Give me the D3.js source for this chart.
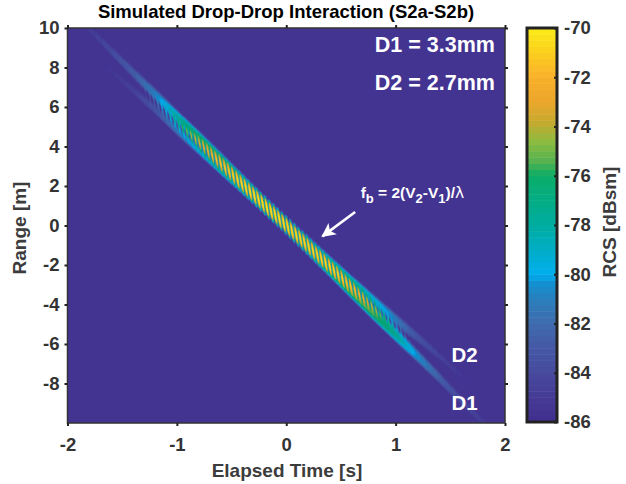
<!DOCTYPE html>
<meta charset="utf-8">
<style>
body { margin: 0; background: #fff; }
text { font-family: "Liberation Sans", Arial, sans-serif; font-weight: bold; }
.tick-label { font-size: 18.5px; fill: #333; }
.axis-label { font-size: 19px; fill: #3c3c3c; }
.note { fill: #fff; }
</style>
<svg width="626" height="484"></svg>
<script src="https://d3js.org/d3.v7.min.js"></script>
<script>

// values
var xTicks = [-2, -1, 0, 1, 2];
var yTicks = [10, 8, 6, 4, 2, 0, -2, -4, -6, -8];
var cTicks = [-70, -72, -74, -76, -78, -80, -82, -84, -86];

// the two drop tracks: range [m] and single drop level [dBsm] along elapsed time [s]
var trackTime = [-1.9, -1.6, -1.4, -1.2, -1.0, -0.8, -0.6, -0.4, -0.2, 0, 0.2, 0.4, 0.6, 0.8, 1.0, 1.2, 1.4, 1.6, 1.9];
var d1Range = [10.5, 8.85, 7.75, 6.65, 5.5, 4.4, 3.3, 2.2, 1.1, 0, -1.1, -2.2, -3.3, -4.4, -5.5, -6.6, -7.7, -8.85, -10.5];
var d2Range = [9.3, 7.85, 6.85, 5.9, 4.9, 3.95, 2.98, 2.0, 1.0, 0.03, -0.95, -1.95, -2.92, -3.85, -4.75, -5.65, -6.6, -7.6, -9.1];
var d1Peak = [-85.2, -83.8, -82.6, -80.8, -78, -75.6, -74.6, -74.8, -75, -75, -75, -74.8, -74.6, -75.4, -77.6, -80.4, -82.4, -83.8, -85.2];
var d2Peak = [-87, -85, -84.4, -83.2, -81, -78.6, -76.4, -75.4, -75, -75, -75, -75.4, -76.4, -78.6, -81, -83.2, -84.3, -85, -87];

// times of the interference fringes along the streak
var fringeTime = [-1.020, -0.982, -0.944, -0.906, -0.867, -0.829, -0.791, -0.752, -0.714, -0.676, -0.637, -0.599,
  -0.560, -0.522, -0.484, -0.445, -0.407, -0.369, -0.330, -0.292, -0.253, -0.215, -0.177, -0.138, -0.100, -0.062,
  -0.023, 0.015, 0.053, 0.092, 0.130, 0.168, 0.207, 0.245, 0.284, 0.322, 0.360, 0.399, 0.437, 0.475, 0.514, 0.552,
  0.590, 0.629, 0.667, 0.706, 0.744, 0.782, 0.821, 0.859, 0.897, 0.936, 0.974, 1.013, 1.051];

// colour bar, sampled by eye
var mapLevels = [-86, -85, -84, -83, -82, -81, -80.3, -80, -79, -78, -77, -76, -75.4, -74.6, -73.8, -73, -72, -71, -70];
var mapColors = ["#412e8f", "#453a95", "#474a9d", "#4558a5", "#3f6bae", "#2a7fbd", "#0f92d2", "#00aeef", "#00adc6", "#00ada0",
  "#03ad85", "#0bad68", "#55b24f", "#8dbb40", "#c6a92f", "#eba72c", "#f9b02a", "#fbcf1e", "#fbec17"];

var floorDb = -85.5;
var svg = d3.select("svg");

var x = d3.scaleLinear().domain([-2, 2]).range([67.5, 505]);
var y = d3.scaleLinear().domain([10, -10]).range([28, 423]);
var c = d3.scaleLinear().domain([-70, -86]).range([28, 422]);
var color = d3.scaleLinear().domain(mapLevels).range(mapColors).clamp(true);

var r1 = d3.scaleLinear().domain(trackTime).range(d1Range);
var r2 = d3.scaleLinear().domain(trackTime).range(d2Range);
var p1 = d3.scaleLinear().domain(trackTime).range(d1Peak);
var p2 = d3.scaleLinear().domain(trackTime).range(d2Peak);
var fringeIndex = d3.scaleLinear().domain(fringeTime).range(d3.range(fringeTime.length));

var falloff = 110, contrast = 0.85, tilt = 0.035;
var cellT = 0.005, cellR = 0.05;

function rcs(t, r) {
  var dr1 = Math.abs(r - r1(t)), dr2 = Math.abs(r - r2(t));
  var a1 = Math.pow(10, (p1(t) + 86 - falloff * dr1 * dr1 * dr1) / 20);
  var a2 = Math.pow(10, (p2(t) + 86 - falloff * dr2 * dr2 * dr2) / 20);
  var phase = 2 * Math.PI * fringeIndex(t + tilt * (r - (r1(t) + r2(t)) / 2));
  var power = a1 * a1 + a2 * a2 + 2 * contrast * a1 * a2 * Math.cos(phase);
  return 10 * Math.log10(power) - 86;
}

// cells of the image that rise above the background
var cells = [];
d3.range(-2, 2, cellT).forEach(function(t) {
  d3.range(-10, 10, cellR).forEach(function(r) {
    var v = rcs(t + cellT / 2, r + cellR / 2);
    if (v > floorDb + 0.1) cells.push({t: t, r: r, v: v});
  });
});

var defs = svg.append("defs");
defs.append("filter").attr("id", "soft")
    .append("feGaussianBlur").attr("stdDeviation", 0.3);
defs.append("clipPath").attr("id", "plot-clip")
    .append("rect")
    .attr("x", x(-2)).attr("y", y(10))
    .attr("width", x(2) - x(-2)).attr("height", y(-10) - y(10));

svg.append("rect")
    .attr("x", x(-2)).attr("y", y(10))
    .attr("width", x(2) - x(-2)).attr("height", y(-10) - y(10))
    .attr("fill", color(floorDb));

svg.append("g").attr("clip-path", "url(#plot-clip)")
  .append("g").attr("filter", "url(#soft)")
    .selectAll("rect")
    .data(cells).enter()
    .append("rect")
    .attr("x", function(d) { return x(d.t); })
    .attr("y", function(d) { return y(d.r + cellR); })
    .attr("width", x(cellT) - x(0) + 0.3)
    .attr("height", y(0) - y(cellR) + 0.3)
    .attr("fill", function(d) { return color(d.v); });

// plot frame and ticks
svg.append("rect")
    .attr("x", x(-2)).attr("y", y(10))
    .attr("width", x(2) - x(-2)).attr("height", y(-10) - y(10))
    .attr("fill", "none").attr("stroke", "#333").attr("stroke-width", 1.5);

function axisStyle(g) {
  g.select(".domain").remove();
  g.selectAll("line").attr("stroke", "#222").attr("stroke-width", 2);
  g.selectAll("text").attr("class", "tick-label").attr("fill", null);
}

svg.append("g").attr("transform", "translate(0," + y(-10) + ")")
    .call(d3.axisBottom(x).tickValues(xTicks).tickSize(3).tickPadding(12).tickFormat(String))
    .call(axisStyle);
svg.append("g").attr("transform", "translate(0," + y(10) + ")")
    .call(d3.axisTop(x).tickValues(xTicks).tickSize(3).tickFormat(""))
    .call(axisStyle);
svg.append("g").attr("transform", "translate(" + x(-2) + ",0)")
    .call(d3.axisLeft(y).tickValues(yTicks).tickSize(3).tickPadding(5).tickFormat(String))
    .call(axisStyle);
svg.append("g").attr("transform", "translate(" + x(2) + ",0)")
    .call(d3.axisRight(y).tickValues(yTicks).tickSize(3).tickFormat(""))
    .call(axisStyle);

svg.append("text").attr("x", 286).attr("y", 18).attr("text-anchor", "middle")
    .attr("fill", "#000").style("font-size", "18.5px")
    .text("Simulated Drop-Drop Interaction (S2a-S2b)");
svg.append("text").attr("class", "axis-label").attr("x", 287).attr("y", 477).attr("text-anchor", "middle")
    .text("Elapsed Time [s]");
svg.append("text").attr("class", "axis-label").attr("text-anchor", "middle")
    .attr("transform", "translate(26,228) rotate(-90)")
    .text("Range [m]");

// annotations
svg.append("text").attr("class", "note").attr("x", x(0.81)).attr("y", y(8.8)).style("font-size", "21.5px").text("D1 = 3.3mm");
svg.append("text").attr("class", "note").attr("x", x(0.81)).attr("y", y(6.85)).style("font-size", "21.5px").text("D2 = 2.7mm");
svg.append("text").attr("class", "note").attr("x", x(1.51)).attr("y", y(-6.9)).style("font-size", "20.5px").text("D2");
svg.append("text").attr("class", "note").attr("x", x(1.51)).attr("y", y(-9.35)).style("font-size", "20.5px").text("D1");

var formula = svg.append("text").attr("class", "note").attr("x", x(0.68)).attr("y", y(1.4)).style("font-size", "15.5px");
formula.append("tspan").text("f");
formula.append("tspan").attr("dy", 5).style("font-size", "13px").text("b");
formula.append("tspan").attr("dy", -5).text(" = 2(V");
formula.append("tspan").attr("dy", 5).style("font-size", "13px").text("2");
formula.append("tspan").attr("dy", -5).text("-V");
formula.append("tspan").attr("dy", 5).style("font-size", "13px").text("1");
formula.append("tspan").attr("dy", -5).text(")/");
formula.append("tspan").style("font-family", "DejaVu Sans").style("font-weight", "normal").text("\u03bb");

defs.append("marker").attr("id", "arrow-head")
    .attr("viewBox", "0 0 12 12").attr("refX", 11).attr("refY", 6)
    .attr("markerWidth", 5.4).attr("markerHeight", 5.4).attr("orient", "auto")
    .append("path").attr("d", "M0,0L12,6L0,12L3,6Z").attr("fill", "#fff");
svg.append("line")
    .attr("x1", x(0.63)).attr("y1", y(0.68))
    .attr("x2", x(0.33)).attr("y2", y(-0.55))
    .attr("stroke", "#fff").attr("stroke-width", 2.6)
    .attr("marker-end", "url(#arrow-head)");

// colour bar
var bands = d3.range(64).map(function(i) { return -86 + i * 16 / 64; });
var colorbar = svg.append("g");
colorbar.selectAll("rect")
    .data(bands).enter()
    .append("rect")
    .attr("x", 527).attr("width", 30)
    .attr("y", function(d) { return c(d + 0.25); })
    .attr("height", c(-86) - c(-85.75) + 0.5)
    .attr("fill", function(d) { return color(d + 0.125); });
colorbar.append("rect")
    .attr("x", 527).attr("y", c(-70)).attr("width", 30).attr("height", c(-86) - c(-70))
    .attr("fill", "none").attr("stroke", "#222").attr("stroke-width", 3);

svg.append("g").attr("transform", "translate(557,0)")
    .call(d3.axisRight(c).tickValues(cTicks).tickSize(-3).tickPadding(7).tickFormat(String))
    .call(axisStyle);
svg.append("text").attr("class", "axis-label").attr("text-anchor", "middle")
    .attr("transform", "translate(616,222) rotate(-90)")
    .text("RCS [dBsm]");

</script>
